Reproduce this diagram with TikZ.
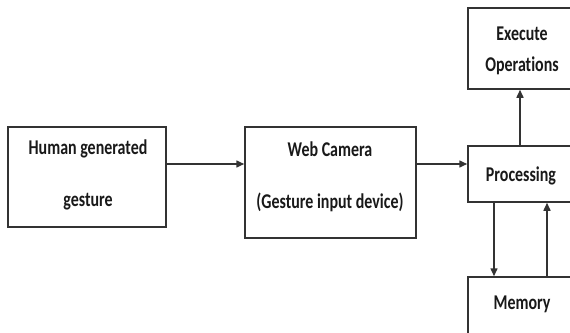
\documentclass[tikz,border=0pt]{standalone}
\usepackage{fontspec}
\setmainfont{Carlito}[FakeStretch=0.76, Ligatures={NoCommon}]
\usetikzlibrary{arrows.meta}
\begin{document}
\begin{tikzpicture}[x=1pt,y=1pt,
  box/.style={draw=black!80, line width=1.5pt, rectangle, inner sep=0pt},
  txt/.style={font=\fontsize{21}{24}\selectfont\bfseries, text=black!90, inner sep=0pt, anchor=center},
  arr/.style={draw=black!80, line width=1.5pt, -{Triangle[length=8pt,width=7pt]}}]
\useasboundingbox (0,0) rectangle (570,-332);
\clip (0,0) rectangle (570,-332);
\fill[white] (0,0) rectangle (570,-332);

% boxes
\node[box, minimum width=158, minimum height=100] (h) at (87,-177) {};
\node[box, minimum width=171, minimum height=111] (w) at (330.5,-182.5) {};
\node[box, minimum width=108, minimum height=56]  (p) at (522,-174) {};
\node[box, minimum width=108, minimum height=81]  (e) at (522,-48.5) {};
\node[box, minimum width=108, minimum height=68]  (m) at (522,-311) {};

% labels
\node[txt] (h1) at (88,-149) {Human generated};
\node[txt] (h2) at (88,-202) {gesture};
\node[txt] (w1) at (330,-149) {Web Camera};
\node[txt] (w2) at (330,-202) {(Gesture input device)};
\node[txt] (p1) at (521,-176) {Processing};
\node[txt] (e1) at (522,-34) {Execute};
\node[txt] (e2) at (522,-66) {Operations};
\node[txt] (m1) at (522,-304) {Memory};

% connectors
\draw[arr] (h.east |- 0,-164) -- (w.west |- 0,-164);
\draw[arr] (w.east |- 0,-164) -- (p.west |- 0,-164);
\draw[arr] (p.north -| 520,0) -- (e.south -| 520,0);
\draw[arr] (p.south -| 494,0) -- (m.north -| 494,0);
\draw[arr] (m.north -| 547,0) -- (p.south -| 547,0);
\end{tikzpicture}
\end{document}
